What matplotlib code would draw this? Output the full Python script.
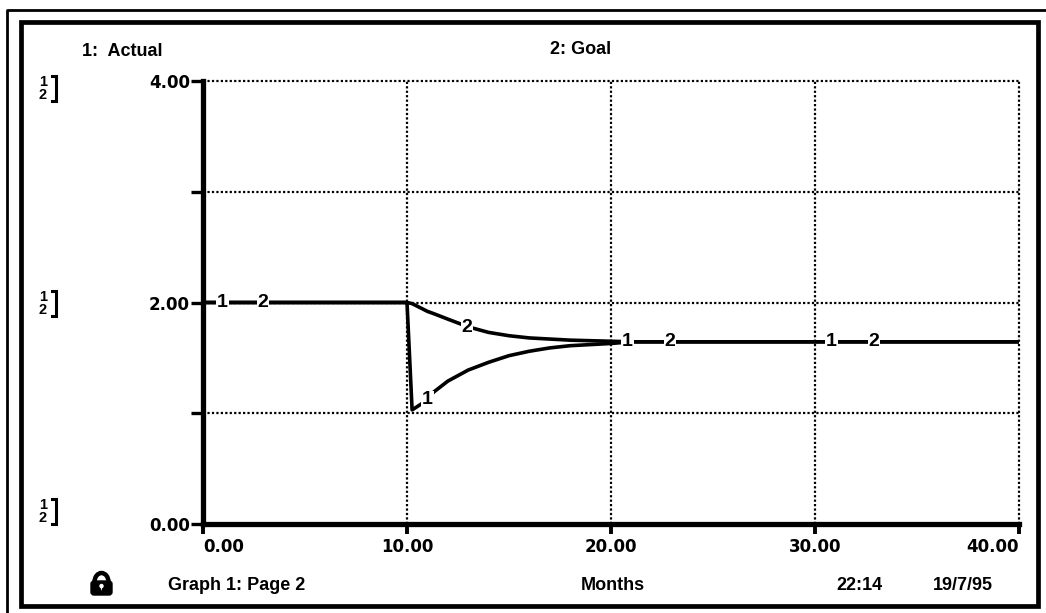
import matplotlib
matplotlib.use("Agg")
import matplotlib.pyplot as plt
from matplotlib.patches import Rectangle, FancyBboxPatch, Arc, Circle, Polygon

W, H = 1046, 613

# data
months = [0, 10, 10.25, 11, 11.3, 12, 13, 14, 15, 16, 17, 18, 19, 20, 21, 40]
actual = [2.0, 2.0, 1.03, 1.12, 1.19, 1.29, 1.39, 1.46, 1.52, 1.56, 1.59, 1.61, 1.62, 1.63, 1.645, 1.645]
goal = [2.0, 2.0, 1.99, 1.92, 1.90, 1.85, 1.78, 1.73, 1.70, 1.68, 1.67, 1.66, 1.655, 1.65, 1.645, 1.645]

# curve number markers (month, value, label)
marks_t = [0.95, 2.95, 11.0, 12.95, 20.8, 22.9, 30.8, 32.9]
marks_v = [2.0, 2.0, 1.12, 1.77, 1.645, 1.645, 1.645, 1.645]
marks_s = ['1', '2', '1', '2', '1', '2', '1', '2']

xticks = [0, 10, 20, 30, 40]
xlabels = ['0.00', '10.00', '20.00', '30.00', '40.00']
yticks = [0, 1, 2, 3, 4]
ylabels = ['0.00', '', '2.00', '', '4.00']

sans = ['Liberation Sans', 'DejaVu Sans']

fig = plt.figure(figsize=(W / 100, H / 100), dpi=100)

# main plot area
x0, x1, y0, y1 = 203, 1019, 524, 81
ax = fig.add_axes([x0 / W, 1 - y0 / H, (x1 - x0) / W, (y0 - y1) / H])
ax.plot(months, actual, color='black', lw=2.6, solid_joinstyle='round', zorder=3)
ax.plot(months, goal, color='black', lw=2.6, solid_joinstyle='round', zorder=3)
for t, v, s in zip(marks_t, marks_v, marks_s):
    ax.text(t, v, s, ha='center', va='center', fontsize=14, fontweight='bold',
            family=sans, zorder=4,
            bbox=dict(fc='white', ec='none', pad=0.5))

ax.set_xlim(0, 40)
ax.set_ylim(0, 4)
ax.set_xticks(xticks)
ax.set_xticklabels(xlabels)
ax.set_yticks(yticks)
ax.set_yticklabels(ylabels)
for lab in ax.get_xticklabels() + ax.get_yticklabels():
    lab.set_family('DejaVu Sans')
    lab.set_fontweight('bold')
    lab.set_fontsize(12)
xl = ax.get_xticklabels()
xl[0].set_ha('left')
xl[-1].set_ha('right')
ax.tick_params(axis='y', direction='out', length=8.5, width=2.4, pad=1.0)
ax.tick_params(axis='x', direction='out', length=7, width=2.8, pad=3)

ax.grid(True, color='black', lw=1.6, linestyle=(0, (1, 1)))
for g in ax.get_xgridlines() + ax.get_ygridlines():
    g.set_clip_on(False)
ax.spines['top'].set_visible(False)
ax.spines['right'].set_visible(False)
ax.spines['left'].set_linewidth(3.8)
ax.spines['bottom'].set_linewidth(3.8)
ax.set_axisbelow(True)

# overlay in pixel coordinates for the window frame and captions
ov = fig.add_axes([0, 0, 1, 1], zorder=-1)
ov.set_xlim(0, W)
ov.set_ylim(H, 0)
ov.axis('off')

ov.plot([7, 7, W], [H, 10, 10], color='black', lw=2.0)
ov.add_patch(Rectangle((21, 22), 1017, 584, fill=False, ec='black', lw=3.4))

txt = dict(fontsize=13, fontweight='bold', family=sans, va='center')
ov.text(82, 52, '1:  Actual', ha='left', **txt)
ov.text(550, 50, '2: Goal', ha='left', **txt)
ov.text(168, 585, 'Graph 1: Page 2', ha='left', **txt)
ov.text(613, 585, 'Months', ha='center', **txt)
ov.text(859, 585, '22:14', ha='center', **txt)
ov.text(963, 585, '19/7/95', ha='center', **txt)

# "1] 2]" scale markers on the left
for yc in [88, 303, 511]:
    ov.text(43, yc - 6, '1', ha='center', va='center', fontsize=10.5,
            fontweight='bold', family=sans)
    ov.text(43, yc + 7, '2', ha='center', va='center', fontsize=10.5,
            fontweight='bold', family=sans)
    ov.plot([52, 56, 56, 52], [yc - 12, yc - 12, yc + 13, yc + 13],
            color='black', lw=2.2, solid_joinstyle='miter')

# lock icon
ov.add_patch(Arc((101.5, 582), 14, 18, theta1=180, theta2=360, lw=3.2, color='black'))
ov.add_patch(FancyBboxPatch((91, 581), 21, 14, boxstyle='round,pad=0,rounding_size=3',
                            fc='black', ec='black'))
ov.add_patch(Circle((101.5, 586), 2.2, fc='white', ec='none'))
ov.add_patch(Polygon([(100.3, 586), (102.7, 586), (101.5, 591)], closed=True,
                     fc='white', ec='none'))

fig.savefig('out.png', dpi=100)
